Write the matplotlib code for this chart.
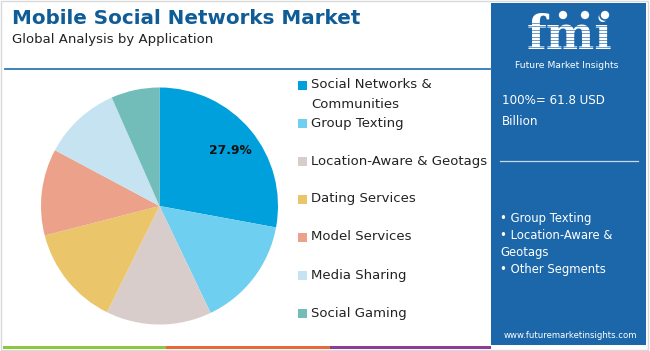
import matplotlib
matplotlib.use("Agg")
import matplotlib.pyplot as plt
from matplotlib.patches import Rectangle, Ellipse
import numpy as np

categories = ["Social Networks &\nCommunities", "Group Texting", "Location-Aware & Geotags",
              "Dating Services", "Model Services", "Media Sharing", "Social Gaming"]
values = [27.9, 15.0, 14.4, 13.7, 11.8, 10.6, 6.6]
colors = ["#00A0DC", "#6ECFF0", "#D9CDCB", "#EBC56A", "#EBA18A", "#C6E3F2", "#72BDBA"]
shown_label = "27.9%"
title = "Mobile Social Networks Market"
subtitle = "Global Analysis by Application"
total_text = "100%= 61.8 USD\nBillion"
bullets = ["\u2022 Group Texting", "\u2022 Location-Aware &", "Geotags", "\u2022 Other Segments"]

W, H = 650, 351
PANEL = "#1B67A9"
fig = plt.figure(figsize=(W / 100, H / 100), dpi=100)
fig.patch.set_facecolor("white")

def fx(x): return x / W
def fy(y): return 1 - y / H

# frame
fig.add_artist(Rectangle((fx(1), fy(350)), fx(647), 349 / H, transform=fig.transFigure,
                         fill=False, edgecolor="#d9d9d9", lw=1))

# title
fig.text(fx(12), fy(19), title, fontsize=14.3, fontweight="bold", color="#0F5C96",
         va="center", ha="left", family="DejaVu Sans")
fig.text(fx(12), fy(40), subtitle, fontsize=9.5, color="#222222", va="center", ha="left")
fig.add_artist(plt.Line2D([fx(5), fx(491)], [fy(69), fy(69)], transform=fig.transFigure,
                          color="#2C7BB8", lw=1.3))

# bottom stripes
for x0, x1, c in [(3, 166, "#8DC63F"), (166, 330, "#E8683A"), (330, 491, "#8E3D96")]:
    fig.add_artist(Rectangle((fx(x0), fy(349)), fx(x1 - x0), 3 / H, transform=fig.transFigure,
                             color=c, lw=0))

# right panel
fig.add_artist(Rectangle((fx(491), fy(345)), fx(155), 342 / H, transform=fig.transFigure,
                         color=PANEL, lw=0))
fig.text(fx(570), fy(49), "fmi", fontsize=33, fontweight="bold", color="white",
         ha="center", va="baseline", family="DejaVu Serif")
# striped logo effect
for yy in np.arange(23, 49, 3.4):
    fig.add_artist(plt.Line2D([fx(512), fx(630)], [fy(yy), fy(yy)], transform=fig.transFigure,
                              color=PANEL, lw=0.45, zorder=5))
for gx in [563, 585, 605]:
    fig.add_artist(Ellipse((fx(gx), fy(15)), 10 / W, 10 / H, transform=fig.transFigure,
                           facecolor="white", edgecolor=PANEL, lw=1.2, zorder=6))
fig.text(fx(567), fy(65.5), "Future Market Insights", fontsize=6.7, color="white",
         ha="center", va="center")
fig.text(fx(502), fy(111), total_text, fontsize=8.6, color="white", ha="left",
         va="center", linespacing=1.75)
fig.add_artist(plt.Line2D([fx(500), fx(638)], [fy(161), fy(161)], transform=fig.transFigure,
                          color="#C9D9EA", lw=0.9))
for i, b in enumerate(bullets):
    fig.text(fx(500), fy(218 + i * 17.3), b, fontsize=8.4, color="white", ha="left", va="center")
fig.text(fx(570), fy(335), "www.futuremarketinsights.com", fontsize=6.1, color="white",
         ha="center", va="center")

# pie
cx, cy, r = 159.5, 206, 118.5
ax = fig.add_axes([fx(cx - r), fy(cy + r), 2 * r / W, 2 * r / H])
wedges, _ = ax.pie(values, colors=colors, startangle=90, counterclock=False,
                   radius=1, wedgeprops=dict(linewidth=0))
ax.set_xlim(-1, 1)
ax.set_ylim(-1, 1)
ax.set_aspect("auto")
ax.axis("off")
w0 = wedges[0]
mid = np.deg2rad((w0.theta1 + w0.theta2) / 2)
ax.text(0.78 * np.cos(mid), 0.73 * np.sin(mid), shown_label, fontsize=8.8,
        fontweight="bold", color="#111111", ha="center", va="center")

# legend
legend_y = [85, 123, 161, 199, 237, 275, 313]
for cat, col, y in zip(categories, colors, legend_y):
    fig.add_artist(Rectangle((fx(298), fy(y + 4.5)), fx(9), 9 / H, transform=fig.transFigure,
                             color=col, lw=0))
    lines = cat.split("\n")
    for j, ln in enumerate(lines):
        fig.text(fx(311), fy(y + j * 19), ln, fontsize=9.5, color="#222222",
                 ha="left", va="center")

fig.savefig("out.png", dpi=100)
